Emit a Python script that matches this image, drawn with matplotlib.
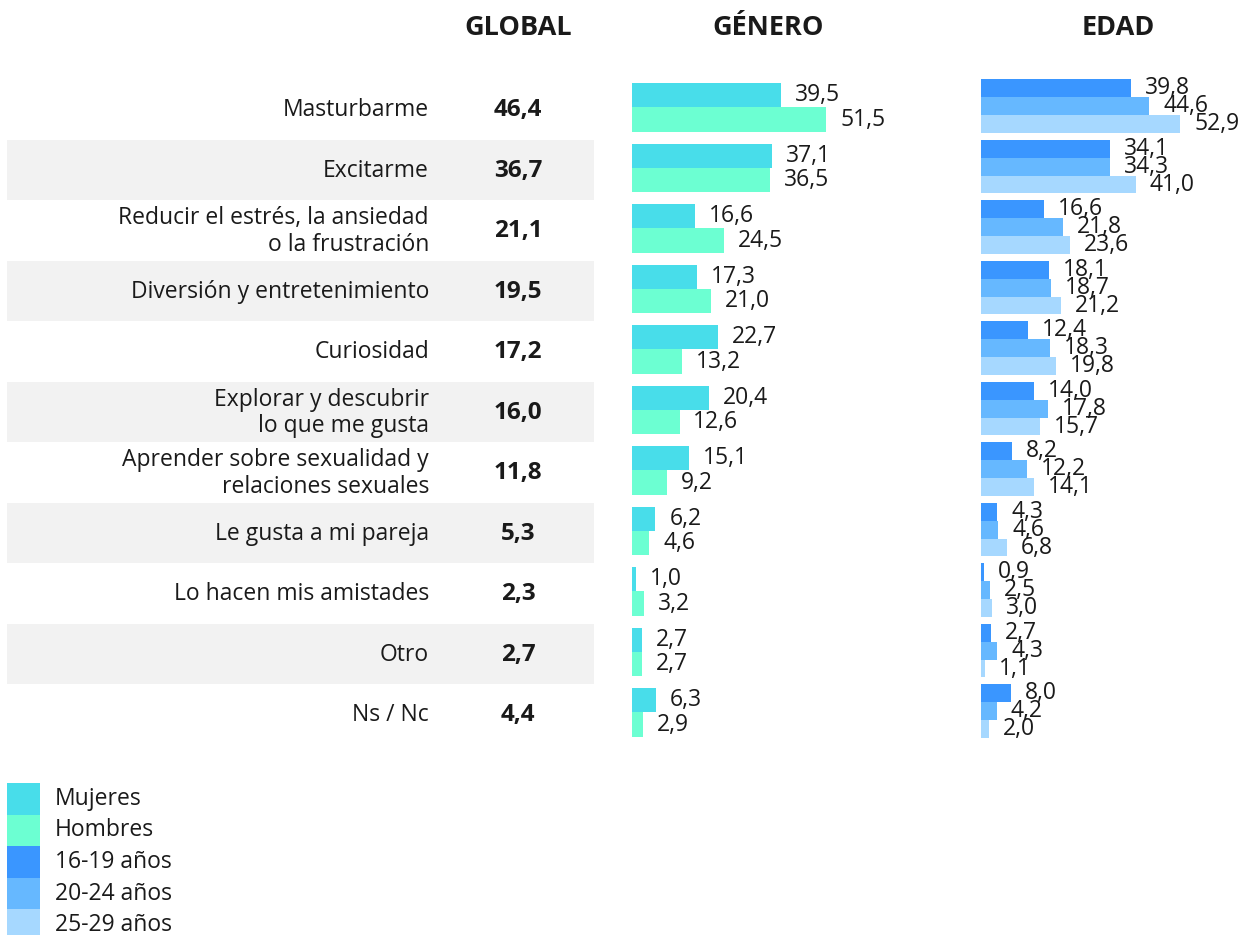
import numpy as np
import matplotlib
matplotlib.use("Agg")
import matplotlib.pyplot as plt
from matplotlib.patches import Rectangle

# data
categories = ["Masturbarme", "Excitarme", "Reducir el estrés, la ansiedad\no la frustración",
              "Diversión y entretenimiento", "Curiosidad", "Explorar y descubrir\nlo que me gusta",
              "Aprender sobre sexualidad y\nrelaciones sexuales", "Le gusta a mi pareja",
              "Lo hacen mis amistades", "Otro", "Ns / Nc"]
global_vals = [46.4, 36.7, 21.1, 19.5, 17.2, 16.0, 11.8, 5.3, 2.3, 2.7, 4.4]
mujeres = [39.5, 37.1, 16.6, 17.3, 22.7, 20.4, 15.1, 6.2, 1.0, 2.7, 6.3]
hombres = [51.5, 36.5, 24.5, 21.0, 13.2, 12.6, 9.2, 4.6, 3.2, 2.7, 2.9]
edad_16_19 = [39.8, 34.1, 16.6, 18.1, 12.4, 14.0, 8.2, 4.3, 0.9, 2.7, 8.0]
edad_20_24 = [44.6, 34.3, 21.8, 18.7, 18.3, 17.8, 12.2, 4.6, 2.5, 4.3, 4.2]
edad_25_29 = [52.9, 41.0, 23.6, 21.2, 19.8, 15.7, 14.1, 6.8, 3.0, 1.1, 2.0]

legend_labels = ["Mujeres", "Hombres", "16-19 años", "20-24 años", "25-29 años"]
colors = ["#48DDEA", "#6CFFD2", "#3A96FF", "#66B8FF", "#A6D8FF"]

W, H = 1249, 935
FONT = "Open Sans"
TXT = "#1a1a1a"
FS = 16.5
plt.rcParams["font.family"] = [FONT, "DejaVu Sans"]


def px_axes(fig, left, top, width, height):
    return fig.add_axes([left / W, 1 - (top + height) / H, width / W, height / H])


def fmt(v):
    return f"{v:.1f}".replace(".", ",")


fig = plt.figure(figsize=(W / 100, H / 100), dpi=100)
n = len(categories)
rows = np.arange(n)
top, rowh = 79, 60.5
height = rowh * n
scale = 3.77  # px per unit

# left part: labels, global values, bands
ax_l = px_axes(fig, 0, top, W, height)
ax_l.set_xlim(0, W)
ax_l.set_ylim(n - 0.5, -0.5)
ax_l.axis("off")
ax_l.set_zorder(0)
for i in rows:
    if i % 2 == 1:
        ax_l.axhspan(i - 0.5, i + 0.5, xmin=7 / W, xmax=594 / W, color="#F2F2F2", lw=0)
    ax_l.text(429, i + 0.02, categories[i], ha="right", va="center", fontsize=FS,
              color=TXT, linespacing=1.15)
    ax_l.text(518, i + 0.02, fmt(global_vals[i]), ha="center", va="center", fontsize=17.5,
              fontweight="bold", color=TXT)

# gender panel
ax_g = px_axes(fig, 632, top, 60 * scale, height)
ax_g.set_xlim(0, 60)
ax_g.set_ylim(n - 0.5, -0.5)
ax_g.axis("off")
bh = 0.4
for vals, off, c in [(mujeres, -0.23, colors[0]), (hombres, 0.17, colors[1])]:
    ax_g.barh(rows + off, vals, height=bh, color=c, lw=0)
    for i, v in enumerate(vals):
        ax_g.annotate(fmt(v), (v, i + off), xytext=(10, 0), textcoords="offset points",
                      ha="left", va="center", fontsize=FS, color=TXT)

# age panel
ax_e = px_axes(fig, 981, top, 60 * scale, height)
ax_e.set_xlim(0, 60)
ax_e.set_ylim(n - 0.5, -0.5)
ax_e.axis("off")
bh = 0.295
for vals, off, c in [(edad_16_19, -0.345, colors[2]), (edad_20_24, -0.05, colors[3]),
                     (edad_25_29, 0.245, colors[4])]:
    ax_e.barh(rows + off, vals, height=bh, color=c, lw=0)
    for i, v in enumerate(vals):
        ax_e.annotate(fmt(v), (v, i + off), xytext=(10, 0), textcoords="offset points",
                      ha="left", va="center", fontsize=FS, color=TXT)

# headers
for x, t in [(518, "GLOBAL"), (768, "GÉNERO"), (1118, "EDAD")]:
    fig.text(x / W, 1 - 28 / H, t, ha="center", va="center", fontsize=19.5,
             fontweight="bold", color=TXT)

# legend
for k, (lab, c) in enumerate(zip(legend_labels, colors)):
    y0 = 783 + 31.6 * k
    fig.patches.append(Rectangle((7 / W, 1 - (y0 + 31.6) / H), 33 / W, 31.6 / H,
                                 transform=fig.transFigure, color=c, lw=0))
    fig.text(55 / W, 1 - (y0 + 15.8) / H, lab, ha="left", va="center", fontsize=FS,
             color=TXT)

plt.savefig("out.png", dpi=100)
